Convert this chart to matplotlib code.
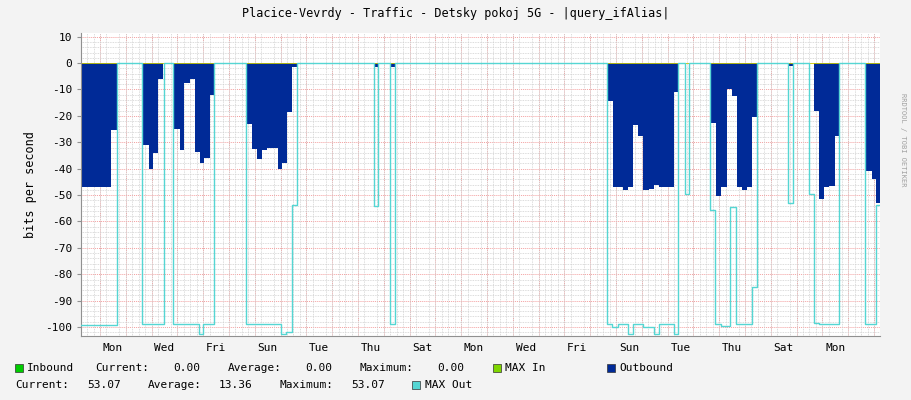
import matplotlib
matplotlib.use("Agg")
import matplotlib.pyplot as plt
import numpy as np
from matplotlib.ticker import MultipleLocator

# time in days since first Monday 00:00
out_t = [-0.736, 0.426, 0.659, 1.667, 1.899, 2.054, 2.248, 2.442, 2.868, 3.101, 3.256, 3.488, 3.682, 3.876,
         4.031, 4.264, 4.457, 5.698, 5.891, 6.085, 6.279, 6.473, 6.899, 7.054, 7.248, 7.442, 7.636,
         10.659, 10.775, 11.279, 11.434, 19.690, 19.884, 20.271, 20.465, 20.659, 20.853, 21.047, 21.279,
         21.473, 21.667, 22.248, 22.442, 23.682, 23.876, 24.070, 24.302, 24.496, 24.690, 24.884, 25.078,
         25.271, 25.465, 26.705, 26.860, 27.674, 27.868, 28.062, 28.256, 28.488, 28.643, 29.690, 29.922,
         30.078, 30.233]
out_v = [-47, -25.4, 0, -31, -40, -34, -6, 0, -25, -33, -7.7, -6, -33.6, -38,
         -36, -12, 0, -23, -32.7, -36.5, -33, -32, -40, -38, -18.5, -1.5, 0,
         -1.5, 0, -1.5, 0, -14.4, -47, -48, -47, -23.4, -27.7, -48, -47.6,
         -46, -47, -11, 0, -22.7, -50.4, -47, -9.8, -12.6, -47, -48, -47,
         -20.6, 0, -1, 0, -18, -51.5, -47, -46.6, -27.6, 0, -41, -44,
         -53.07, -53.07]

max_t = [-0.736, 0.659, 1.628, 2.481, 2.829, 3.837, 3.992, 4.419, 5.659, 7.016, 7.209, 7.442, 7.636,
         10.620, 10.775, 11.240, 11.434, 19.651, 19.845, 20.078, 20.465, 20.659, 21.047, 21.473, 21.667,
         22.248, 22.403, 22.674, 22.829, 23.643, 23.837, 24.070, 24.419, 24.651, 25.271, 25.465, 26.667,
         26.860, 27.481, 27.674, 27.868, 28.643, 29.651, 30.078, 30.233]
max_v = [-99.2, 0, -99, 0, -99, -102.7, -99, 0, -99, -102.7, -102, -53.8, 0,
         -54, 0, -99, 0, -99, -100, -99, -102.7, -99, -100, -102.7, -99,
         -102.7, 0, -49.6, 0, -55.7, -99, -99.5, -54.6, -99, -84.8, 0, -53,
         0, -49.6, -98.5, -99, 0, -99, -53.6, -53.6]

day_names = ["Mon", "Tue", "Wed", "Thu", "Fri", "Sat", "Sun"]
title = "Placice-Vevrdy - Traffic - Detsky pokoj 5G - |query_ifAlias|"

MONO = "DejaVu Sans Mono"
fig = plt.figure(figsize=(9.11, 4.0), dpi=100, facecolor="#F3F3F3")
ax = fig.add_axes([81/911, 1-336/400, 799/911, 303/400])
ax.set_facecolor("white")
xmin, xmax = -0.736, 30.233
ax.set_xlim(xmin, xmax)
ax.set_ylim(-103.4, 11.4)

# grids
ax.xaxis.set_minor_locator(MultipleLocator(0.25))
ax.yaxis.set_minor_locator(MultipleLocator(2))
ax.grid(which="minor", color="#D0D0D0", linestyle=(0, (1, 1)), linewidth=0.6)
for d in range(0, 31):
    ax.axvline(d, color="#F4A0A0", linestyle=(0, (1, 1)), linewidth=0.7, zorder=0.5)
for y in range(-100, 11, 10):
    ax.axhline(y, color="#F4A0A0", linestyle=(0, (1, 1)), linewidth=0.7, zorder=0.5)

ax.fill_between(out_t, out_v, 0, step="post", color="#002A97", linewidth=0, zorder=2)
ax.step(max_t, max_v, where="post", color="#55D6D3", linewidth=1, zorder=3)
ax.axhline(0, color="#CCCC00", linewidth=0.6, zorder=2.5)

ticks = [0.5 + 2*i for i in range(15)]
ax.set_xticks(ticks)
ax.set_xticklabels([day_names[(2*i) % 7] for i in range(15)], fontfamily=MONO, fontsize=8)
ax.tick_params(axis="x", which="major", length=0, pad=5)
ax.tick_params(axis="x", which="minor", length=0)
ax.set_yticks(range(-100, 11, 10))
ax.set_yticklabels([str(v) for v in range(-100, 11, 10)], fontfamily=MONO, fontsize=8)
ax.tick_params(axis="y", which="major", length=3, color="#909090")
ax.tick_params(axis="y", which="minor", length=0)
for s in ["top", "right"]:
    ax.spines[s].set_visible(False)
for s in ["left", "bottom"]:
    ax.spines[s].set_color("#909090")
ax.set_ylabel("bits per second", fontfamily=MONO, fontsize=8.5, labelpad=6)

fig.text(0.5, 1-14/400, title, ha="center", va="center", fontfamily=MONO, fontsize=8.5)
fig.text(903/911, 0.5+60/400, "RRDTOOL / TOBI OETIKER", rotation=270, ha="center", va="center",
         fontfamily=MONO, fontsize=5, color="#A0A0A0")

def sq(x, y, c):
    fig.patches.append(plt.Rectangle((x/911, 1-(y+4)/400), 8/911, 8/400, transform=fig.transFigure,
                                     facecolor=c, edgecolor="#333333", linewidth=0.5))
def t(x, y, s):
    fig.text(x/911, 1-y/400, s, fontfamily=MONO, fontsize=8, va="center", ha="left")

y1, y2 = 368, 385
sq(15, y1, "#00CC00"); t(27, y1, "Inbound")
t(95, y1, "Current:"); t(173, y1, "0.00")
t(228, y1, "Average:"); t(305, y1, "0.00")
t(360, y1, "Maximum:"); t(437, y1, "0.00")
sq(493, y1, "#7FD600"); t(505, y1, "MAX In")
sq(607, y1, "#002A97"); t(619, y1, "Outbound")
t(15, y2, "Current:"); t(87, y2, "53.07")
t(148, y2, "Average:"); t(219, y2, "13.36")
t(280, y2, "Maximum:"); t(351, y2, "53.07")
sq(412, y2, "#55D6D3"); t(425, y2, "MAX Out")

fig.savefig("out.png", dpi=100, facecolor=fig.get_facecolor())
